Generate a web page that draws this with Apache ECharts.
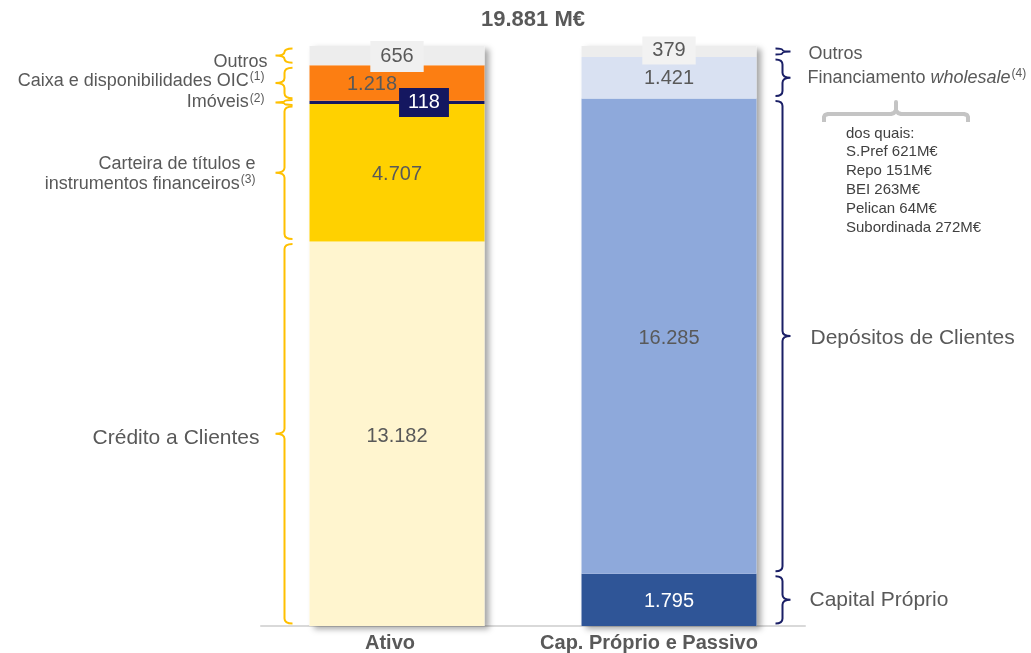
<!DOCTYPE html>
<html>
<head>
<meta charset="utf-8">
<script src="https://cdn.jsdelivr.net/npm/echarts@6/dist/echarts.min.js"></script>
<style>html,body{margin:0;padding:0;background:#fff}#c{width:1031px;height:653px}</style>
</head>
<body>
<div id="c"></div>
<script>
// ---------- data ----------
const categories = ['Ativo', 'Cap. Próprio e Passivo'];
const ativoNames = ['Crédito a Clientes', 'Carteira de títulos e instrumentos financeiros', 'Imóveis', 'Caixa e disponibilidades OIC', 'Outros'];
const ativoValues = [13182, 4707, 118, 1218, 656];
const ativoSideLabels = ['Crédito a Clientes', 'Carteira de títulos e\ninstrumentos financeiros{sup|(3)}', 'Imóveis{sup|(2)}', 'Caixa e disponibilidades OIC{sup|(1)}', 'Outros'];
const passivoNames = ['Capital Próprio', 'Depósitos de Clientes', 'Financiamento wholesale', 'Outros'];
const passivoValues = [1795, 16285, 1421, 379];
const passivoSideLabels = ['Capital Próprio', 'Depósitos de Clientes', 'Financiamento {it|wholesale}{sup|(4)}', 'Outros'];
const wholesaleItems = ['S.Pref', 'Repo', 'BEI', 'Pelican', 'Subordinada'];
const wholesaleValues = [621, 151, 263, 64, 272];

// ---------- styles ----------
const FONT = '"Liberation Sans", Arial, sans-serif';
const TXT = '#595959';
const BAR_W = 175;
const ativoColors = ['#FFF5CF', '#FFD100', '#141760', '#FC7E12', '#EDEDED'];
const passivoColors = ['#2F5597', '#8EA9DB', '#D9E1F2', '#EDEDED'];
const ativoSideFont = [21, 18, 18, 18, 18];
const passivoSideFont = [21, 21, 18, 18];
const ativoLabelShift = [[-8, 4], [-12, 1], [-3, 0], [-3, -2], [0, 6]];
const passivoLabelShift = [[3, 0], [4, 2], [1, 0], [2, 2]];
const catLabelPadRight = [14, 40];

function fmt(v) { return String(v).replace(/\B(?=(\d{3})+(?!\d))/g, '.'); }
const sum = a => a.reduce((s, v) => s + v, 0);
const totalA = sum(ativoValues), totalP = sum(passivoValues);

const valueLabelBase = { show: true, position: 'inside', fontSize: 20, color: TXT, fontFamily: FONT,
  formatter: p => fmt(p.value) };
const ativoLabelExtra = [
  { offset: [0, 3] },
  { offset: [0, 2] },
  { color: '#fff', backgroundColor: '#141760', padding: [5, 9, 4, 9], offset: [27, 0] },
  { offset: [-25, 2] },
  { backgroundColor: '#F0F0F0', padding: [6, 10, 5, 10], offset: [0, 1] }
];
const passivoLabelExtra = [
  { color: '#fff', offset: [0, 2] },
  { offset: [0, 2] },
  { offset: [0, 1] },
  { backgroundColor: '#F2F2F2', padding: [7, 10, 1, 10], offset: [0, -1] }
];

const series = [];
// shadow backing bar built from the totals
series.push({
  type: 'bar', name: 'shadow', data: [totalA, totalP], barWidth: BAR_W, barGap: '-100%',
  itemStyle: { color: '#fff', shadowColor: 'rgba(0,0,0,0.35)', shadowBlur: 6, shadowOffsetX: 4, shadowOffsetY: 3 },
  silent: true, z: 1
});
ativoValues.forEach((v, i) => {
  series.push({
    type: 'bar', name: ativoNames[i], stack: 'tot', data: [v, '-'], barWidth: BAR_W, barGap: '-100%',
    itemStyle: { color: ativoColors[i] }, z: 2,
    label: Object.assign({}, valueLabelBase, ativoLabelExtra[i])
  });
});
passivoValues.forEach((v, i) => {
  series.push({
    type: 'bar', name: passivoNames[i], stack: 'tot', data: ['-', v], barWidth: BAR_W, barGap: '-100%',
    itemStyle: { color: passivoColors[i] }, z: 2,
    label: Object.assign({}, valueLabelBase, passivoLabelExtra[i])
  });
});

// brace data: [categoryIndex, start, end, segmentIndex]
const braceData = [];
let acc = 0;
ativoValues.forEach((v, i) => { braceData.push([0, acc, acc + v, i]); acc += v; });
acc = 0;
passivoValues.forEach((v, i) => { braceData.push([1, acc, acc + v, i]); acc += v; });

const richSide = {
  sup: { fontSize: 12, verticalAlign: 'top', fill: TXT, fontFamily: FONT, padding: [0, 0, 6, 1] },
  it: { fontStyle: 'italic', fill: TXT, fontFamily: FONT }
};

series.push({
  type: 'custom', name: 'braces', coordinateSystem: 'cartesian2d', data: braceData, clip: false, z: 5,
  encode: { x: 0, y: [1, 2] }, silent: true,
  renderItem: function (params, api) {
    const cat = api.value(0), i = api.value(3);
    const p0 = api.coord([cat, api.value(1)]);
    const p1 = api.coord([cat, api.value(2)]);
    const cx = p0[0];
    let bottom = p0[1] - 2.5, top = p1[1] + 2.5;
    const mid = (p0[1] + p1[1]) / 2;
    if (bottom - top < 5) { top = mid - 2.5; bottom = mid + 2.5; }
    const r = Math.min(5, (bottom - top) / 4);
    const left = cat === 0;
    let spine, hook, tip;
    if (left) { const e = cx - BAR_W / 2; spine = e - 25; hook = e - 17; tip = e - 34; }
    else { const e = cx + BAR_W / 2; spine = e + 26; hook = e + 19; tip = e + 34; }
    const d = `M${hook},${top} Q${spine},${top} ${spine},${top + r} L${spine},${mid - r} Q${spine},${mid} ${tip},${mid} ` +
      `M${tip},${mid} Q${spine},${mid} ${spine},${mid + r} L${spine},${bottom - r} Q${spine},${bottom} ${hook},${bottom}`;
    const color = left ? '#FFC000' : '#1A1F66';
    const shift = left ? ativoLabelShift[i] : passivoLabelShift[i];
    const fs = left ? ativoSideFont[i] : passivoSideFont[i];
    const text = left ? ativoSideLabels[i] : passivoSideLabels[i];
    const rich = {
      sup: richSide.sup,
      it: Object.assign({ fontSize: fs }, richSide.it)
    };
    return {
      type: 'group',
      children: [
        { type: 'path', shape: { pathData: d }, style: { stroke: color, lineWidth: 2, fill: null } },
        { type: 'text', x: (left ? tip - 8 : tip + 16) + shift[0], y: mid + shift[1],
          style: { text: text, fill: TXT, fontSize: fs, fontFamily: FONT, lineHeight: fs + 2,
            align: left ? 'right' : 'left', verticalAlign: 'middle', rich: rich } }
      ]
    };
  }
});

const breakdownText = ['dos quais:'].concat(wholesaleItems.map((n, i) => n + ' ' + wholesaleValues[i] + 'M€')).join('\n');

const catRich = {};
catLabelPadRight.forEach((p, i) => {
  catRich['c' + i] = { fontSize: 20, fontWeight: 'bold', color: TXT, fontFamily: FONT, padding: [0, p, 0, 0] };
});

const chart = echarts.init(document.getElementById('c'));
chart.setOption({
  animation: false,
  grid: { left: 261, right: 226, top: 46, bottom: 27 },
  xAxis: {
    type: 'category', data: categories,
    axisLine: { lineStyle: { color: '#D9D9D9', width: 2 } },
    axisTick: { show: false },
    axisLabel: { interval: 0, hideOverlap: false, fontSize: 20, fontWeight: 'bold', color: TXT, fontFamily: FONT, margin: 7,
      formatter: (v, i) => '{c' + i + '|' + v + '}', rich: catRich }
  },
  yAxis: { type: 'value', min: 0, max: totalA, show: false, splitLine: { show: false } },
  series: series,
  graphic: [
    { type: 'text', x: 533, y: 20, style: { text: fmt(totalA) + ' M€', fill: TXT, fontSize: 22, fontWeight: 'bold',
      fontFamily: FONT, align: 'center', verticalAlign: 'middle' } },
    { type: 'polyline', shape: { points: [[824, 122], [824, 117], [825, 115], [828, 114], [891, 114], [894, 113], [896, 110], [896, 102], [896, 110], [898, 113], [901, 114], [964, 114], [967, 115], [968, 117], [968, 122]] },
      style: { stroke: '#C4C4C4', lineWidth: 4, fill: null, lineJoin: 'round' } },
    { type: 'text', x: 846, y: 124, style: { text: breakdownText, fill: '#404040', fontSize: 15, lineHeight: 18.8,
      fontFamily: FONT, align: 'left', verticalAlign: 'top' } }
  ]
});
</script>
</body>
</html>
